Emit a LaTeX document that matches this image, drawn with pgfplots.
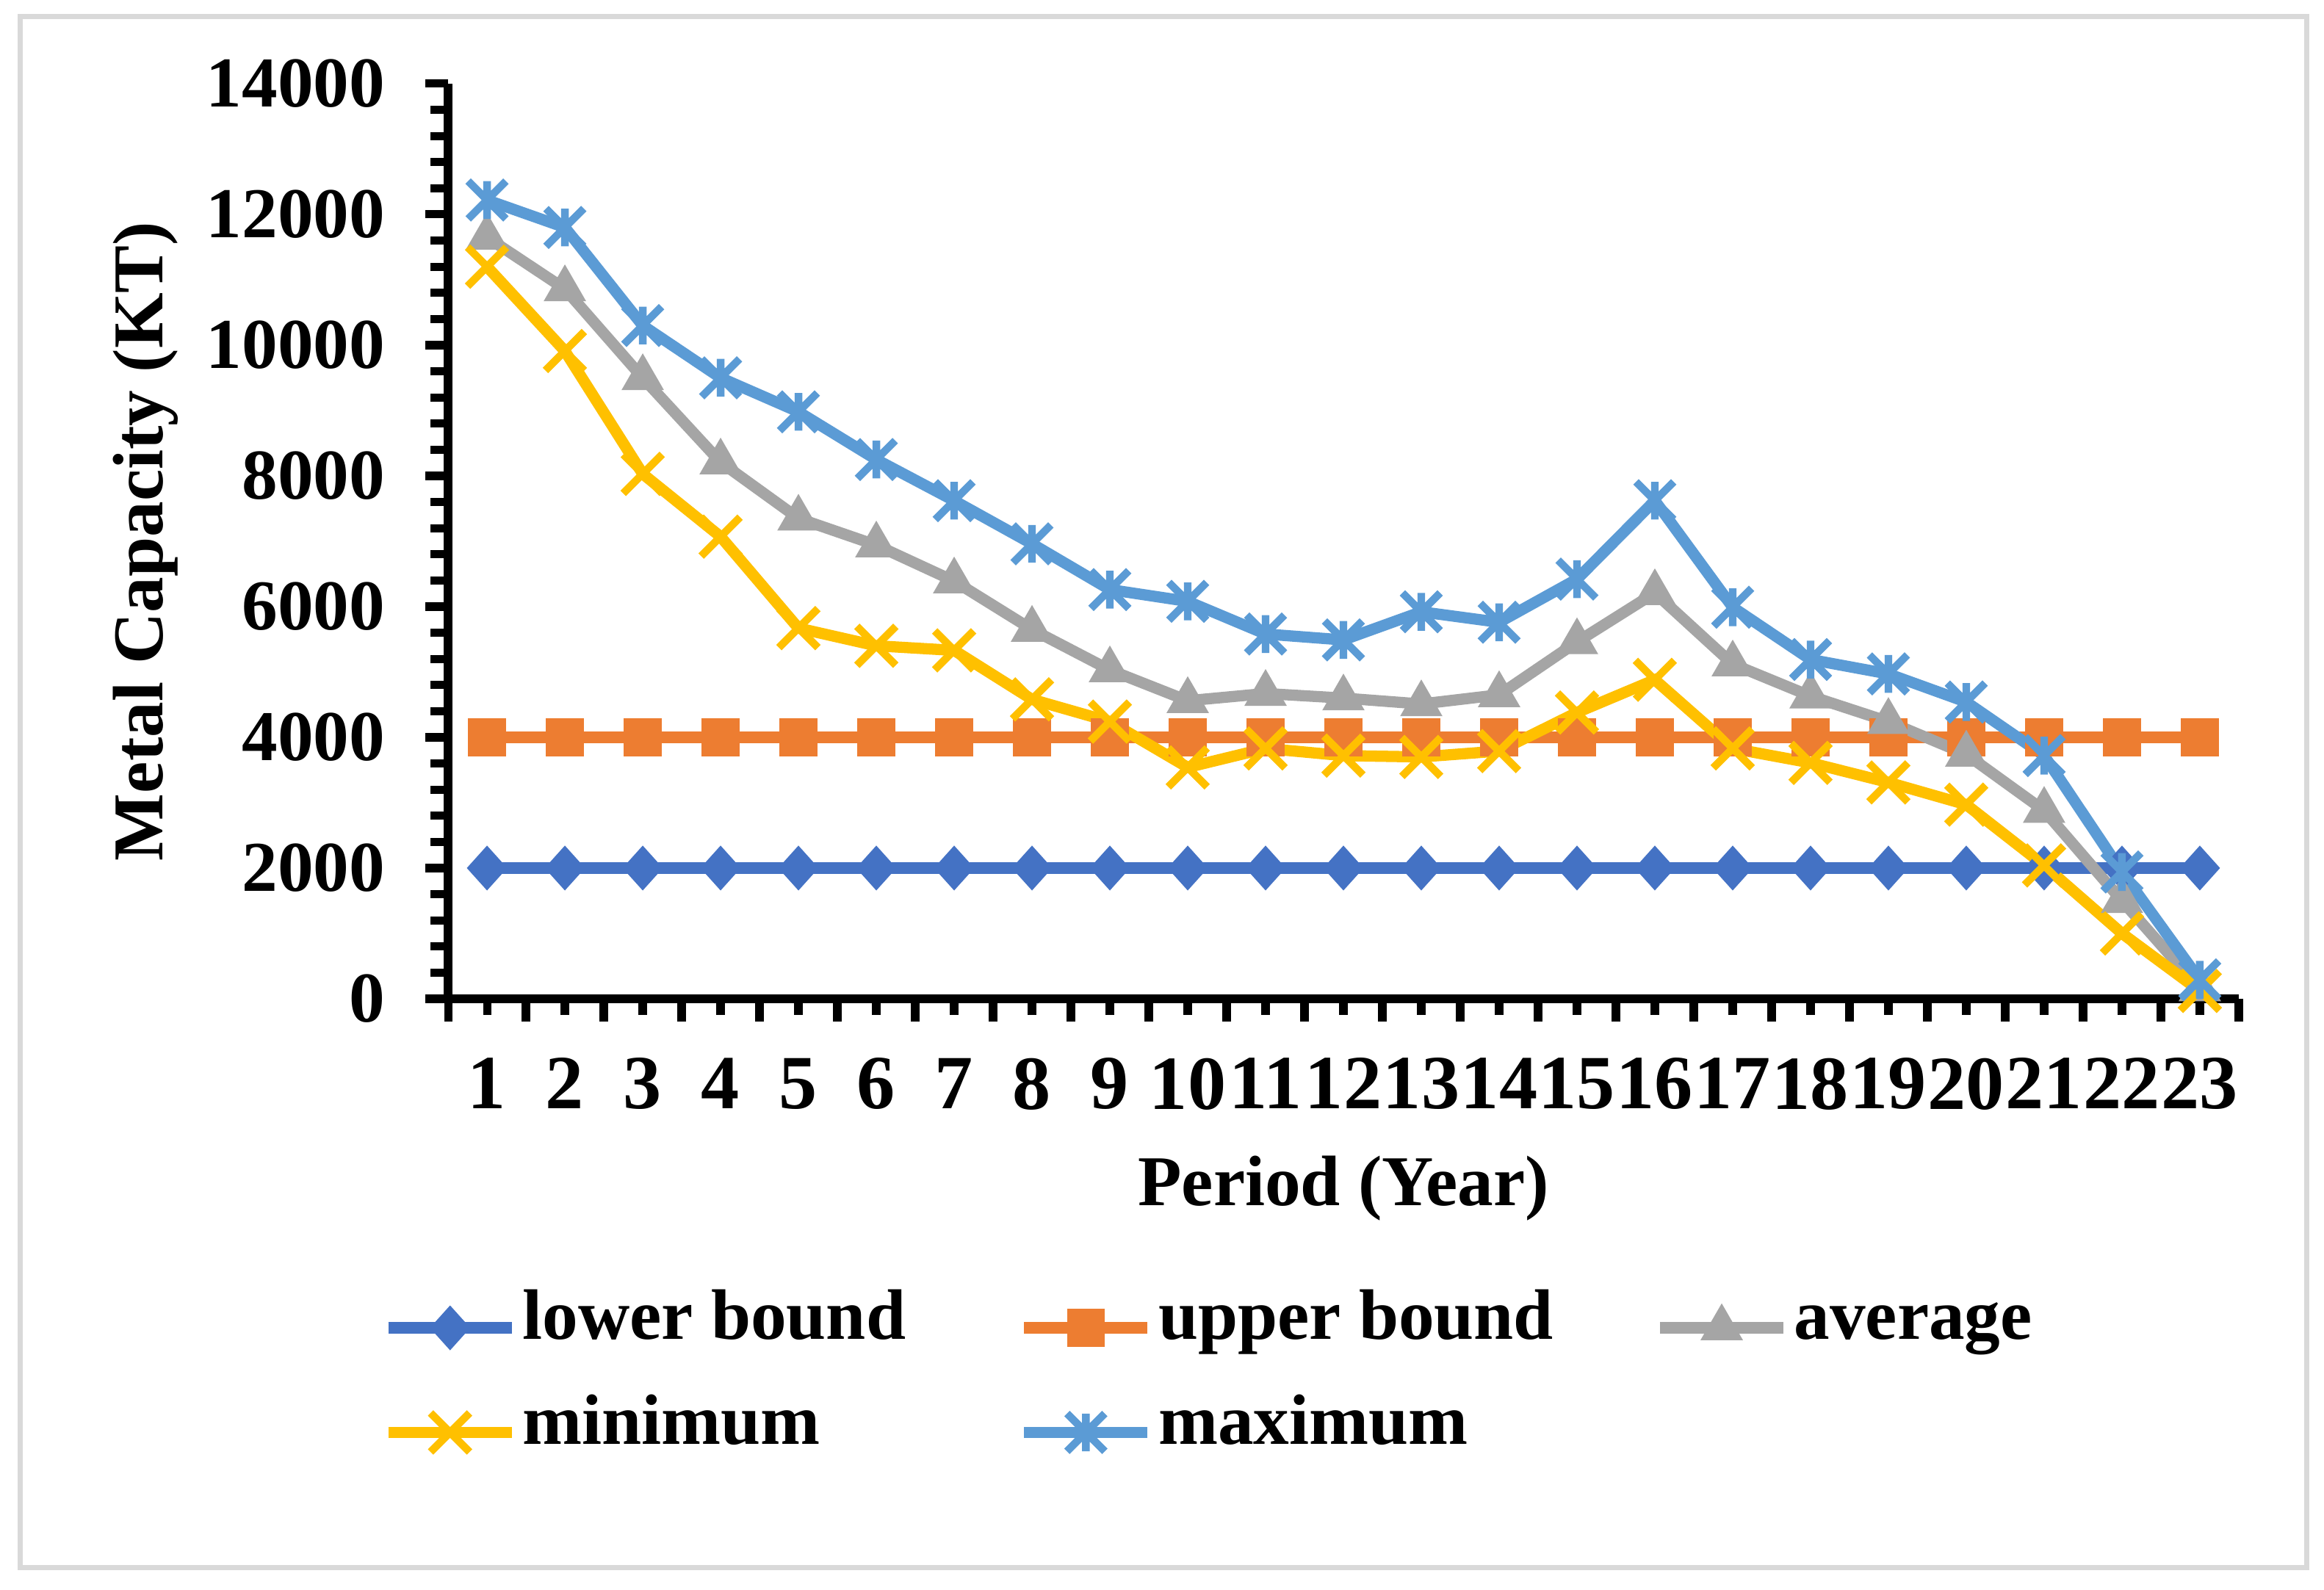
\documentclass[border=0pt]{standalone}
\usepackage{fontspec}
\setmainfont{Liberation Serif}
\usepackage{pgfplots}
\usepackage{pgfplotstable}
\pgfplotsset{compat=1.18}

\definecolor{cLow}{HTML}{4472C4}
\definecolor{cUp}{HTML}{ED7D31}
\definecolor{cAvg}{HTML}{A5A5A5}
\definecolor{cMin}{HTML}{FFC000}
\definecolor{cMax}{HTML}{5B9BD5}

% Excel-style star: an x with a vertical bar through it
\pgfdeclareplotmark{xstar}{%
  \pgfpathmoveto{\pgfqpoint{-\pgfplotmarksize}{-\pgfplotmarksize}}%
  \pgfpathlineto{\pgfqpoint{\pgfplotmarksize}{\pgfplotmarksize}}%
  \pgfpathmoveto{\pgfqpoint{-\pgfplotmarksize}{\pgfplotmarksize}}%
  \pgfpathlineto{\pgfqpoint{\pgfplotmarksize}{-\pgfplotmarksize}}%
  \pgfpathmoveto{\pgfqpoint{0pt}{-\pgfplotmarksize}}%
  \pgfpathlineto{\pgfqpoint{0pt}{\pgfplotmarksize}}%
  \pgfusepathqstroke}

\pgfplotstableread{
period low up avg min max
1  2000 4000 11650 11200 12220
2  2000 4000 10860  9910 11800
3  2000 4000  9500  8030 10300
4  2000 4000  8210  7070  9500
5  2000 4000  7350  5670  8980
6  2000 4000  6940  5400  8250
7  2000 4000  6390  5330  7620
8  2000 4000  5650  4580  6960
9  2000 4000  5030  4240  6260
10 2000 4000  4560  3540  6080
11 2000 4000  4670  3830  5580
12 2000 4000  4600  3720  5490
13 2000 4000  4510  3700  5920
14 2000 4000  4650  3790  5760
15 2000 4000  5460  4380  6420
16 2000 4000  6210  4880  7620
17 2000 4000  5120  3830  5990
18 2000 4000  4630  3610  5190
19 2000 4000  4240  3310  4970
20 2000 4000  3740  2970  4540
21 2000 4000  2880  2040  3720
22 2000 4000  1500  1000  1940
23 2000 4000   150   120   290
}\capdata

\newcommand{\chartfont}{\fontsize{14}{16}\selectfont\bfseries}
\newcommand{\xtickfont}{\fontsize{15}{17}\selectfont\bfseries}
\newcommand{\lgd}[1]{\makebox[3.38cm][l]{#1}}

\begin{document}
\begin{tikzpicture}
\useasboundingbox (0,0) rectangle (16cm,10.943cm);
\draw[color=black!15, line width=1pt] (0.137cm,0.147cm) rectangle (15.88cm,10.827cm);
\begin{axis}[
  at={(3.085cm,4.066cm)}, anchor=south west,
  scale only axis, width=12.328cm, height=6.301cm,
  xmin=0.5, xmax=23.5, ymin=0, ymax=14000,
  axis lines*=left,
  axis line style={line width=1.8pt, black},
  clip=false,
  tick align=outside,
  major tick length=0.155cm, minor tick length=0.12cm,
  every tick/.style={black, line width=1.6pt},
  xtick={0.5,1.5,...,23.5}, xticklabels={},
  extra x ticks={1,2,...,23},
  extra x tick labels={1,2,3,4,5,6,7,8,9,10,11,12,13,14,15,16,17,18,19,20,21,22,23},
  extra x tick style={major tick length=0.11cm},
  ytick={0,2000,...,14000}, minor y tick num=4,
  scaled y ticks=false,
  /pgf/number format/1000 sep={},
  /pgf/number format/assume math mode=true,
  ticklabel style={font=\chartfont},
  xticklabel style={font=\xtickfont, yshift=-0.175cm},
  yticklabel style={xshift=-0.155cm},
  label style={font=\chartfont},
  xlabel={Period (Year)},
  ylabel={Metal Capacity (KT)},
  xlabel style={at={(axis description cs:0.5,-0.2073)}, anchor=center},
  ylabel style={at={(axis description cs:-0.1691,0.5)}, anchor=center},
  legend columns=3,
  legend style={
    at={(axis description cs:-0.0365,-0.3025)}, anchor=north west,
    draw=none, fill=none, inner sep=0pt, outer sep=0pt,
    font=\chartfont,
    /tikz/every even column/.append style={column sep=0pt},
    nodes={inner xsep=0.035cm, inner ysep=0pt, text height=0.44cm, text depth=0.28cm},
  },
  legend cell align=left,
  legend image code/.code={%
    \draw[mark repeat=2, mark phase=2] plot coordinates {(0cm,0cm) (0.425cm,0cm) (0.85cm,0cm)};
  },
  every axis plot/.append style={line width=2.2pt},
]
\addplot[color=cLow, mark=diamond*, mark size=4.1pt, mark options={solid, line width=0.4pt, xscale=1.2}]
  table[x=period, y=low] {\capdata};
\addplot[color=cUp, mark=square*, mark size=3.5pt, mark options={solid, line width=0.4pt}]
  table[x=period, y=up] {\capdata};
\addplot[color=cAvg, mark=triangle*, mark size=4.4pt, mark options={solid, line width=0.4pt}]
  table[x=period, y=avg] {\capdata};
\addplot[color=cMin, mark=x, mark size=5.4pt, mark options={solid, line width=1.5pt}]
  table[x=period, y=min] {\capdata};
\addplot[color=cMax, mark=xstar, mark size=3.7pt, mark options={solid, line width=1.5pt}]
  table[x=period, y=max] {\capdata};
\legend{\lgd{lower bound}, \lgd{upper bound}, \lgd{average}, \lgd{minimum}, \lgd{maximum}}
\end{axis}
\end{tikzpicture}
\end{document}
